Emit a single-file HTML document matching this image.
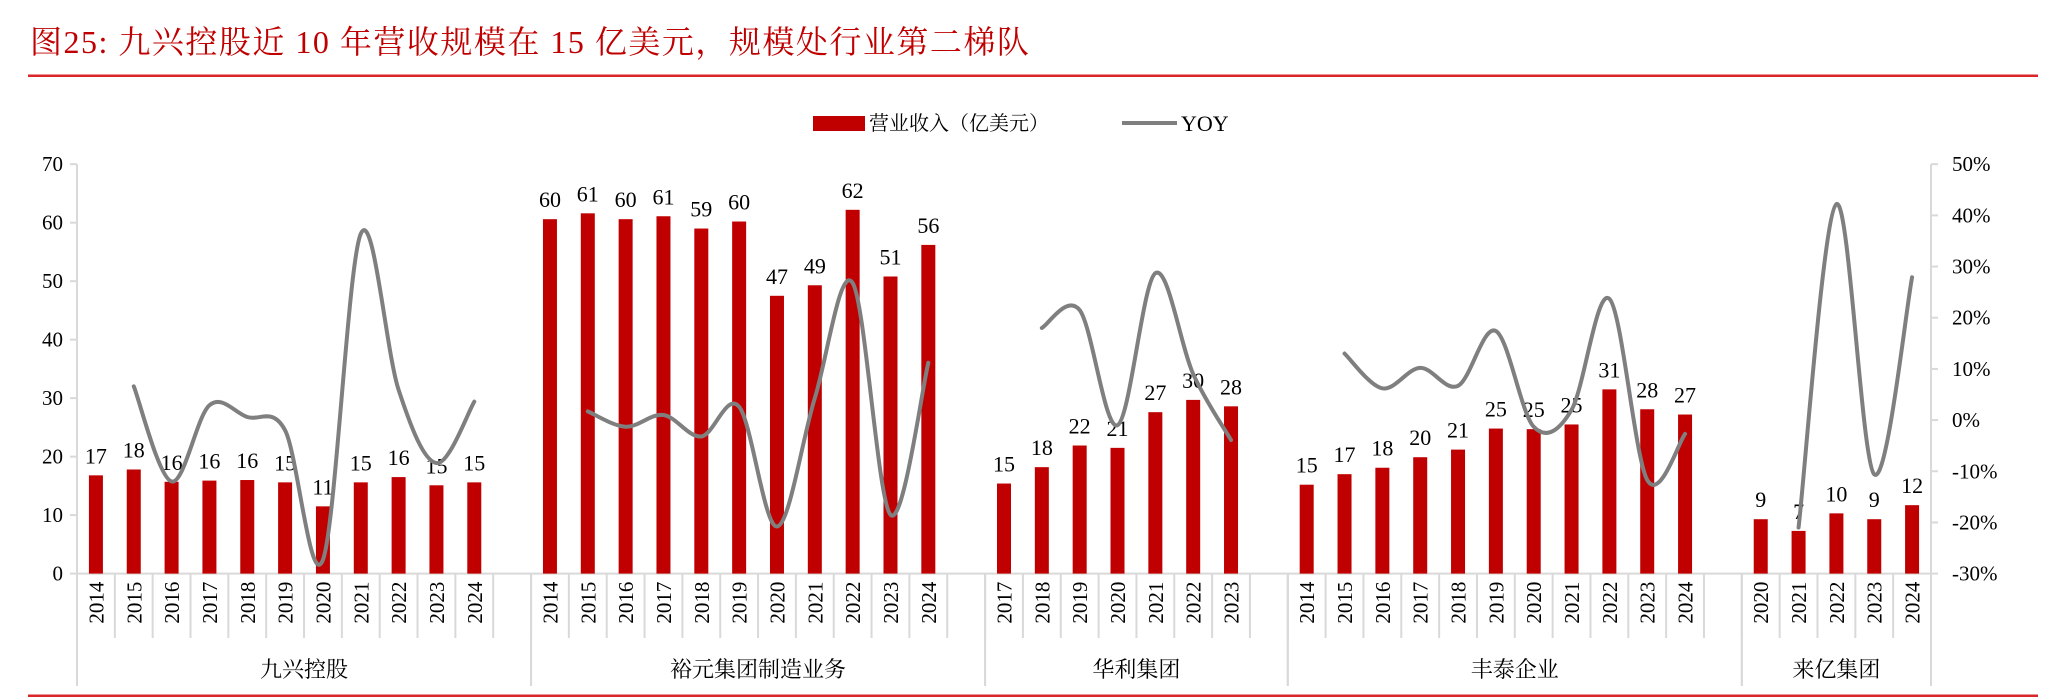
<!DOCTYPE html>
<html><head><meta charset="utf-8"><style>
body{margin:0;background:#fff;}
svg{display:block;font-family:"Liberation Serif","Noto Serif CJK SC",serif;}
</style></head><body>
<svg id="chart" width="2064" height="699" viewBox="0 0 2064 699" xmlns="http://www.w3.org/2000/svg">
<text x="30" y="53" font-size="32" letter-spacing="1.5" fill="#c00000">图25:  九兴控股近 10 年营收规模在 15 亿美元，规模处行业第二梯队</text>
<rect x="28" y="74.5" width="2010" height="2.5" fill="#d9262b"/>
<rect x="28" y="694.5" width="2010" height="2.5" fill="#d9262b"/>
<g>
<rect x="813" y="116" width="52" height="15" fill="#c00000"/>
<text x="869" y="130" font-size="20">营业收入（亿美元）</text>
<line x1="1122" y1="123" x2="1177" y2="123" stroke="#7f7f7f" stroke-width="4"/>
<text x="1181" y="131" font-size="22">YOY</text>
</g>
<g id="plot"></g>
</svg>
<script>
const groups = ["九兴控股","裕元集团制造业务","华利集团","丰泰企业","来亿集团"];
const years1 = ["2014","2015","2016","2017","2018","2019","2020","2021","2022","2023","2024"];
const years2 = ["2014","2015","2016","2017","2018","2019","2020","2021","2022","2023","2024"];
const years3 = ["2017","2018","2019","2020","2021","2022","2023"];
const years4 = ["2014","2015","2016","2017","2018","2019","2020","2021","2022","2023","2024"];
const years5 = ["2020","2021","2022","2023","2024"];
const rev1 = [16.8,17.8,15.7,15.9,16.0,15.6,11.5,15.6,16.5,15.1,15.6];
const rev2 = [60.6,61.6,60.6,61.1,59.0,60.2,47.5,49.3,62.2,50.8,56.2];
const rev3 = [15.4,18.2,21.9,21.5,27.6,29.7,28.6];
const rev4 = [15.2,17.0,18.1,19.9,21.2,24.8,24.7,25.5,31.5,28.1,27.2];
const rev5 = [9.3,7.3,10.3,9.3,11.7];
const lab1 = ["17","18","16","16","16","15","11","15","16","15","15"];
const lab2 = ["60","61","60","61","59","60","47","49","62","51","56"];
const lab3 = ["15","18","22","21","27","30","28"];
const lab4 = ["15","17","18","20","21","25","25","25","31","28","27"];
const lab5 = ["9","7","10","9","12"];
const yoy1 = [null,6.6,-12,2.9,0.6,-2,-27.3,36.4,5.9,-8.4,3.6];
const yoy2 = [null,1.7,-1.3,1,-3.2,2.6,-20.8,4.3,26.8,-18.5,11.2];
const yoy3 = [null,18,21.5,-1,28.7,9,-3.9];
const yoy4 = [null,13,6.2,10.2,6.7,17.4,-1.3,2,23.7,-11.7,-2.7];
const yoy5 = [null,-21,42.2,-10.6,27.9];
const leftTicks = [0,10,20,30,40,50,60,70];
const rightTicks = [-30,-20,-10,0,10,20,30,40,50];

const NS="http://www.w3.org/2000/svg";
const plot=document.getElementById('plot');
const X0=77,X1=1931,Y0=573.6,YT=164.2;
const years=[years1,years2,years3,years4,years5];
const revs=[rev1,rev2,rev3,rev4,rev5];
const labs=[lab1,lab2,lab3,lab4,lab5];
const yoys=[yoy1,yoy2,yoy3,yoy4,yoy5];
let nSlots=0; years.forEach((y,i)=>{nSlots+=y.length+(i<years.length-1?1:0);});
const slot=(X1-X0)/nSlots;
const yL=v=>Y0-(v/70)*(Y0-YT);
const yR=v=>Y0-((v+30)/80)*(Y0-YT);
function mk(tag,attrs,parent){const e=document.createElementNS(NS,tag);for(const k in attrs)e.setAttribute(k,attrs[k]);(parent||plot).appendChild(e);return e;}

let a=mk('line',{x1:X0,y1:YT,x2:X0,y2:Y0,stroke:'#d9d9d9','stroke-width':2});


a=mk('line',{x1:X1,y1:YT,x2:X1,y2:Y0,stroke:'#d9d9d9','stroke-width':2});


a=mk('line',{x1:X0,y1:Y0,x2:X1,y2:Y0,stroke:'#d9d9d9','stroke-width':2});


leftTicks.forEach(v=>{
  mk('line',{x1:X0-7,y1:yL(v),x2:X0,y2:yL(v),stroke:'#d9d9d9','stroke-width':2});
  const t=mk('text',{x:X0-14,y:yL(v)+7,'font-size':21,'text-anchor':'end'});t.textContent=v;
  
  
});
rightTicks.forEach(v=>{
  mk('line',{x1:X1,y1:yR(v),x2:X1+7,y2:yR(v),stroke:'#d9d9d9','stroke-width':2});
  const t=mk('text',{x:X1+21,y:yR(v)+7,'font-size':21});t.textContent=v+'%';
  
  
});

function smoothPath(pts){
  let d='M'+pts[0][0]+','+pts[0][1];
  for(let i=0;i<pts.length-1;i++){
    const p0=pts[i-1]||pts[i],p1=pts[i],p2=pts[i+1],p3=pts[i+2]||p2;
    const c1=[p1[0]+(p2[0]-p0[0])/6,p1[1]+(p2[1]-p0[1])/6];
    const c2=[p2[0]-(p3[0]-p1[0])/6,p2[1]-(p3[1]-p1[1])/6];
    d+=' C'+c1[0]+','+c1[1]+' '+c2[0]+','+c2[1]+' '+p2[0]+','+p2[1];
  }
  return d;
}

let s=0;
const lines=[];
years.forEach((ys,g)=>{
  const gStart=s;
  const pts=[];
  ys.forEach((yr,i)=>{
    const cx=X0+(s+0.5)*slot;
    const v=revs[g][i];
    const b=mk('rect',{x:cx-7,y:yL(v),width:14,height:Y0-yL(v),fill:'#c00000'});
    
    
    const t=mk('text',{x:cx,y:yL(v)-12,'font-size':22,'text-anchor':'middle'});t.textContent=labs[g][i];
    
    
    const yl=mk('text',{x:0,y:0,'font-size':21,'text-anchor':'end',transform:'translate('+(cx+7.5)+','+(Y0+8)+') rotate(-90)'});yl.textContent=yr;
    
    
    if(yoys[g][i]!==null)pts.push([cx,yR(yoys[g][i])]);
    s++;
    mk('line',{x1:X0+s*slot,y1:Y0,x2:X0+s*slot,y2:638,stroke:'#d9d9d9','stroke-width':2});
  });
  if(g<years.length-1){s++;mk('line',{x1:X0+s*slot,y1:Y0,x2:X0+s*slot,y2:638,stroke:'#d9d9d9','stroke-width':2});}
  const gEnd=s;
  mk('line',{x1:X0+gStart*slot,y1:Y0,x2:X0+gStart*slot,y2:686,stroke:'#d9d9d9','stroke-width':2});
  mk('line',{x1:X0+gEnd*slot,y1:Y0,x2:X0+gEnd*slot,y2:686,stroke:'#d9d9d9','stroke-width':2});
  const gl=mk('text',{x:X0+(gStart+gEnd)/2*slot,y:677,'font-size':22,'text-anchor':'middle'});gl.textContent=groups[g];
  
  
  lines.push(pts);
});
lines.forEach((pts,g)=>{
  const p=mk('path',{d:smoothPath(pts),fill:'none',stroke:'#7f7f7f','stroke-width':4,'stroke-linecap':'round'});
  
  
});
</script>
</body></html>
